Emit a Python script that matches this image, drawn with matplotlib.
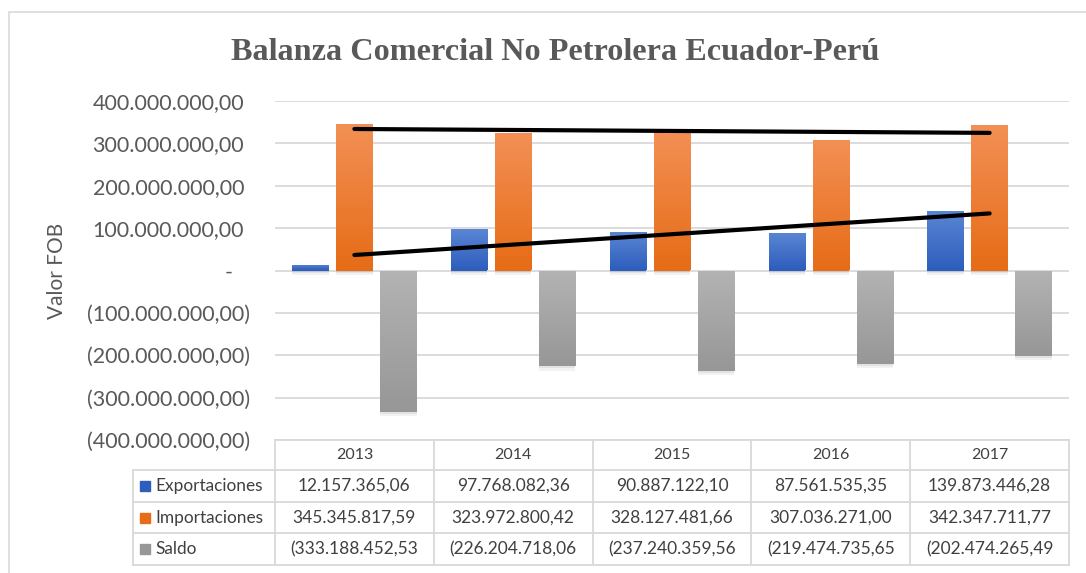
import numpy as np
import matplotlib
matplotlib.use("Agg")
import matplotlib.pyplot as plt
import matplotlib.patheffects as pe
import matplotlib.transforms as mtransforms
from matplotlib.patches import Rectangle
from matplotlib.colors import LinearSegmentedColormap

years = ["2013", "2014", "2015", "2016", "2017"]
exportaciones = [12157365.06, 97768082.36, 90887122.10, 87561535.35, 139873446.28]
importaciones = [345345817.59, 323972800.42, 328127481.66, 307036271.00, 342347711.77]
saldo = [-333188452.53, -226204718.06, -237240359.56, -219474735.65, -202474265.49]
series_names = ["Exportaciones", "Importaciones", "Saldo"]

W, H = 1086, 573
text_gray = "#595959"
grid_gray = "#D9D9D9"
plt.rcParams["font.family"] = ["Lato", "DejaVu Sans"]


def es_num(v):
    s = f"{abs(v):,.2f}"
    return s.replace(",", "X").replace(".", ",").replace("X", ".")


def axis_fmt(v):
    if v == 0:
        return "-"
    if v < 0:
        return "(" + es_num(v) + ")"
    return es_num(v)


def fx(p):
    return p / W


def fy(p):
    return 1 - p / H


fig = plt.figure(figsize=(W / 100, H / 100), dpi=100)

# chart border
fig.patches.append(Rectangle((fx(8.5), fy(1200)), 2, fy(11.5) - fy(1200), transform=fig.transFigure,
                             fill=False, edgecolor="#D9D9D9", lw=1.2))

ax = fig.add_axes([fx(275), fy(440), fx(1069) - fx(275), (440 - 101) / H])
x = np.arange(len(years))
bw = 0.23
off = 0.277
styles = [("#5B86D4", "#2E5EBD"), ("#F39055", "#E66C17"), ("#B3B3B3", "#979797")]
all_vals = [exportaciones, importaciones, saldo]

shadow = [pe.SimplePatchShadow(offset=(0, -1.5), shadow_rgbFace="#000000", alpha=0.06),
          pe.SimplePatchShadow(offset=(0, -3), shadow_rgbFace="#000000", alpha=0.05),
          pe.Normal()]
for k, (vals, (ctop, cbot)) in enumerate(zip(all_vals, styles)):
    bars = ax.bar(x + (k - 1) * off, vals, width=bw, color=cbot, zorder=2, path_effects=shadow)
    cmap = LinearSegmentedColormap.from_list("g%d" % k, [cbot, ctop])
    for b in bars:
        x0, y0 = b.get_x(), b.get_y()
        y1 = y0 + b.get_height()
        lo, hi = min(y0, y1), max(y0, y1)
        im = ax.imshow(np.linspace(0, 1, 50).reshape(-1, 1), cmap=cmap, origin="lower",
                       extent=[x0, x0 + b.get_width(), lo, hi], aspect="auto", zorder=2.5)
        im.set_clip_path(b)

# linear trend lines for exportaciones and importaciones
for vals in (exportaciones, importaciones):
    m, c = np.polyfit(x, vals, 1)
    ax.plot([x[0], x[-1]], [m * x[0] + c, m * x[-1] + c], color="black", lw=3, zorder=4,
            solid_capstyle="round")

ax.set_xlim(-0.5, len(years) - 0.5)
ax.set_ylim(-400e6, 400e6)
yt = np.arange(-400e6, 400e6 + 1, 100e6)
ax.set_yticks(yt)
ax.set_yticklabels([axis_fmt(v) for v in yt])
ax.set_xticks([])
ax.tick_params(axis="y", length=0, pad=18, labelsize=15.5, labelcolor=text_gray)
for v, lab in zip(yt, ax.get_yticklabels()):
    shift = 0 if v < 0 else (6 if v > 0 else 17)
    lab.set_transform(lab.get_transform() +
                      mtransforms.ScaledTranslation(-shift / 100, 0, fig.dpi_scale_trans))
for s in ax.spines.values():
    s.set_visible(False)
ax.grid(axis="y", color=grid_gray, lw=1.3, zorder=0)
ax.set_axisbelow(True)

fig.text(fx(57), fy(271), "Valor FOB", rotation=90, ha="center", va="center",
         fontsize=15, color=text_gray)
fig.text(fx(555), fy(52), "Balanza Comercial No Petrolera Ecuador-Perú", ha="center", va="center",
         fontsize=23.2, fontweight="bold", family="Liberation Serif", color=text_gray)

# data table
col = (1069 - 275) / len(years)
tab = fig.add_axes([fx(133), fy(565), fx(1069) - fx(133), (565 - 440) / H])
tab.axis("off")
xmin = -0.5 - (275 - 133) / col
tab.set_xlim(xmin, len(years) - 0.5)
tab.set_ylim(125, 0)
rows_y = [0, 30, 62, 93, 125]
lk = dict(color=grid_gray, lw=1.3, clip_on=False)
tab.plot([-0.5, len(years) - 0.5], [0, 0], **lk)
for yy in rows_y[1:]:
    tab.plot([xmin, len(years) - 0.5], [yy, yy], **lk)
for i in range(len(years) + 1):
    tab.plot([i - 0.5, i - 0.5], [0, 125], **lk)
tab.plot([xmin, xmin], [30, 125], **lk)

for i, yr in enumerate(years):
    tab.text(i, 15, yr, ha="center", va="center", fontsize=11.5, color="#404040")
for r, (name, vals, (ctop, cbot)) in enumerate(zip(series_names, all_vals, styles)):
    yc = (rows_y[r + 1] + rows_y[r + 2]) / 2
    tab.add_patch(Rectangle((xmin + 7 / col, yc - 5), 10 / col, 10, color=cbot, clip_on=False))
    tab.text(xmin + 22 / col, yc, name, ha="left", va="center", fontsize=12.4, color="#404040")
    for i, v in enumerate(vals):
        s = "(" + es_num(v) if v < 0 else es_num(v)
        tab.text(i, yc, s, ha="center", va="center", fontsize=12.5, color="#404040")

fig.savefig("out.png", dpi=100)
